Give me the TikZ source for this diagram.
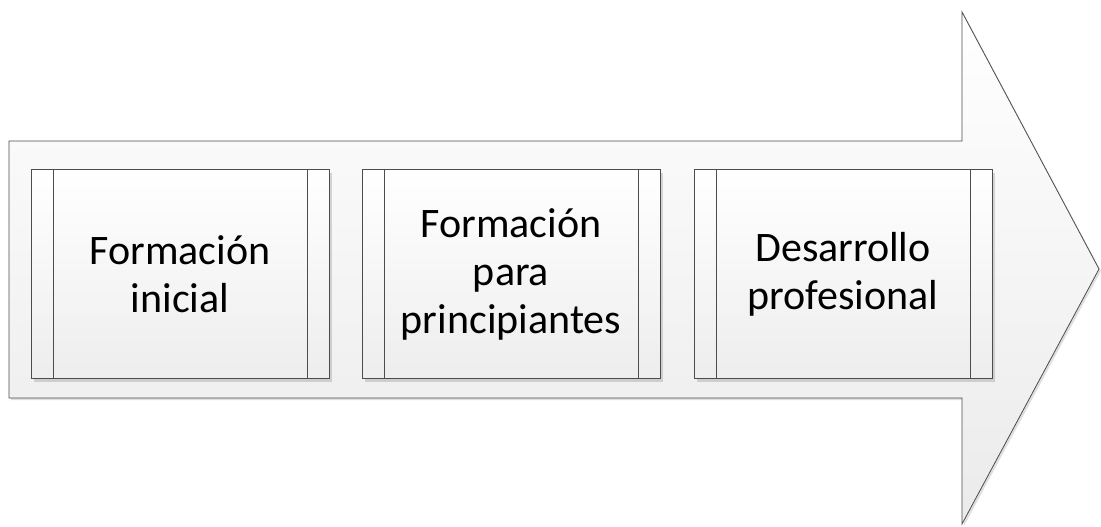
\documentclass[tikz,border=0pt]{standalone}
\usepackage{fontspec}
\setmainfont{Carlito}
\usetikzlibrary{shadows}
\tikzset{
  arrowbody/.style={draw=black!70, line width=0.8pt, top color=white, bottom color=black!8,
    drop shadow={shadow xshift=2pt, shadow yshift=-2pt, opacity=0.25}},
  stagebox/.style={draw=black!70, line width=0.8pt, top color=white, bottom color=black!7,
    minimum width=298pt, minimum height=209pt, inner sep=0pt, align=center,
    font=\fontsize{42}{48}\selectfont, text=black,
    drop shadow={shadow xshift=3pt, shadow yshift=-3pt, opacity=0.3}},
  strip/.style={draw=black!70, line width=0.8pt}
}
\begin{document}
\begin{tikzpicture}[x=1pt,y=-1pt]
\useasboundingbox (0,0) rectangle (1101,527);
\draw[arrowbody] (9,141) -- (962,141) -- (962,12) -- (1099,269) -- (962,524) -- (962,398) -- (9,398) -- cycle;
\node[stagebox] (b1) at (180,274) {Formación\\inicial};
\node[stagebox] (b2) at (511,274) {Formación\\para\\principiantes};
\node[stagebox] (b3) at (843,274) {Desarrollo\\profesional};
\foreach \b in {b1,b2,b3}{
  \draw[strip] ([xshift=22.5pt]\b.north west) -- ([xshift=22.5pt]\b.south west);
  \draw[strip] ([xshift=-22.5pt]\b.north east) -- ([xshift=-22.5pt]\b.south east);
}
\end{tikzpicture}
\end{document}
